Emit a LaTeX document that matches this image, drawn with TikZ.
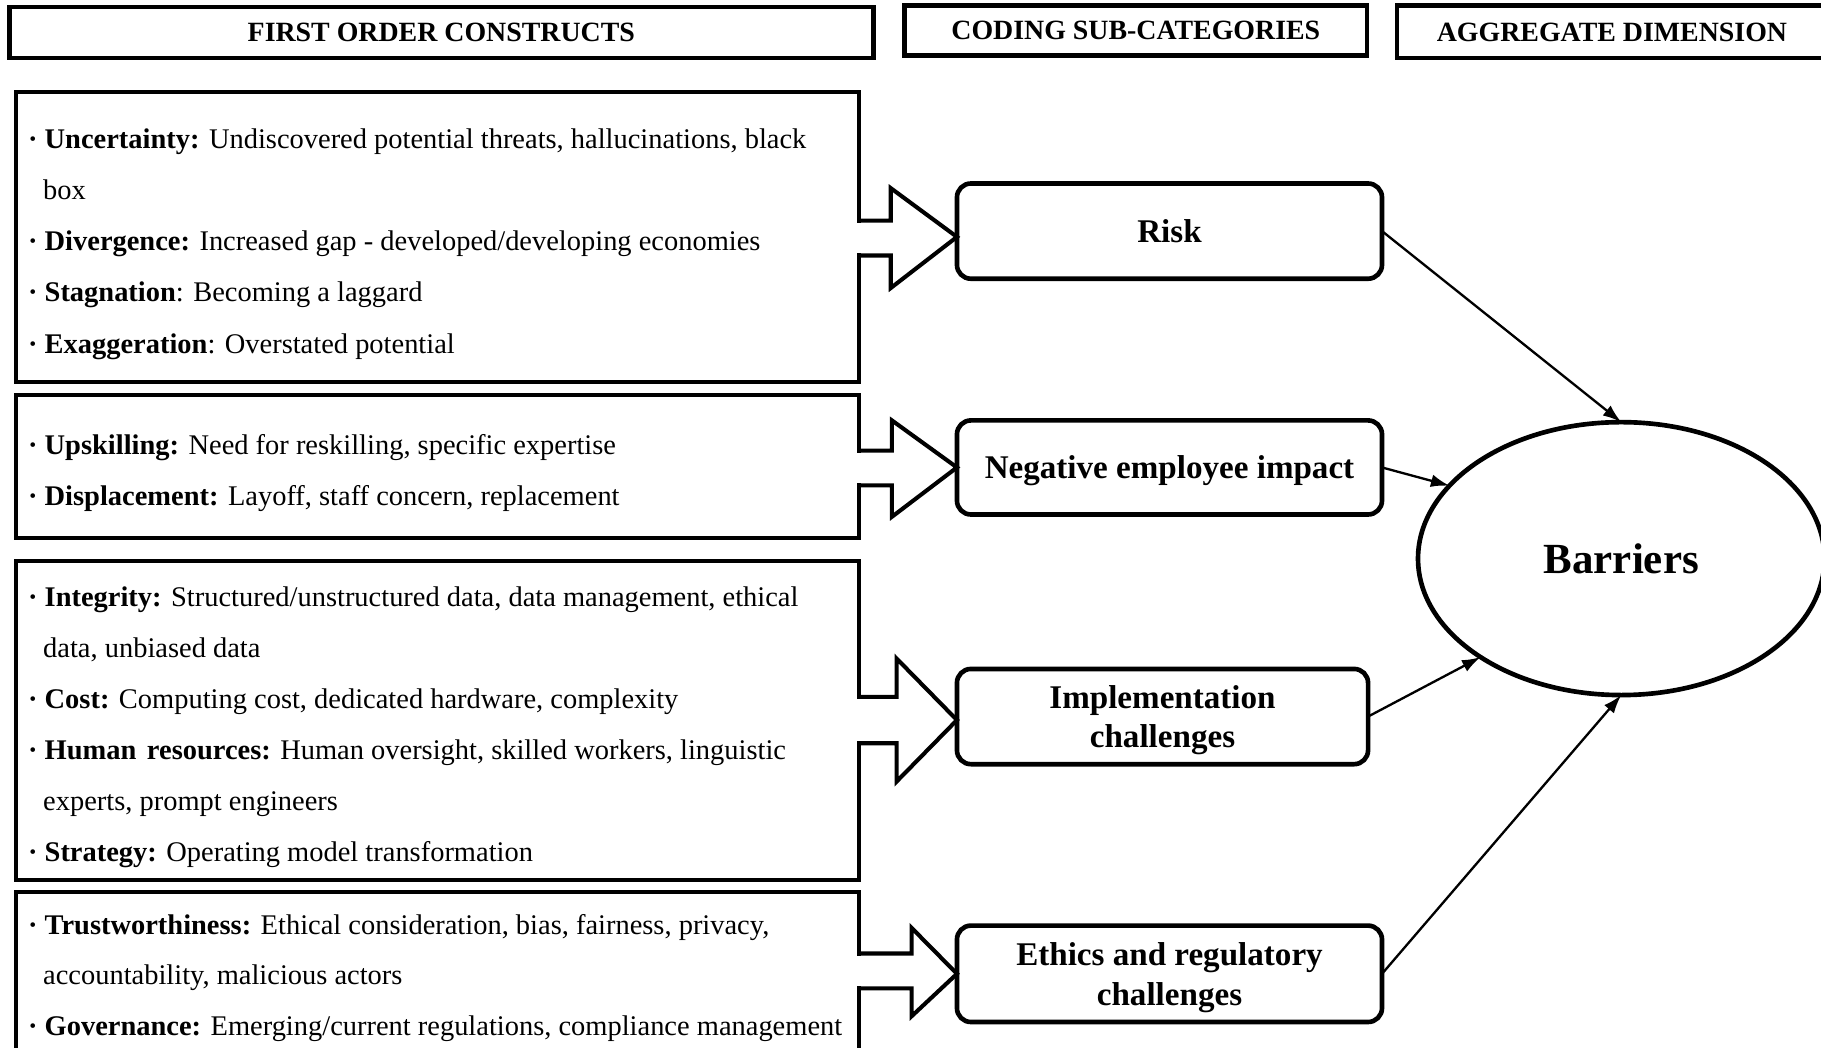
\documentclass[tikz,border=0pt]{standalone}
\usepackage{fontspec}
\setmainfont{Liberation Serif}
\usetikzlibrary{arrows.meta, shapes.geometric, calc}

\begin{document}
\begin{tikzpicture}[x=1pt, y=-1pt,
  hdr/.style={draw, line width=4pt, inner sep=0pt, outer sep=0pt,
    font=\fontsize{24}{28}\selectfont\bfseries},
  cbox/.style={draw, line width=3.5pt, inner sep=0pt, outer sep=0pt},
  subbox/.style={draw, line width=4pt, rounded corners=12pt, inner sep=0pt,
    outer sep=0pt, align=center, minimum width=366pt,
    font=\fontsize{28.5}{34}\selectfont\bfseries},
  txt/.style={anchor=base west, inner sep=0pt,
    font=\fontsize{24.5}{29}\selectfont},
  blk/.style={line width=3.5pt, miter limit=10},
  gap/.style={fill=white},
  link/.style={line width=2pt, -{Latex[length=16pt,width=11pt]}},
]
\useasboundingbox (0,0) rectangle (1568,902);
\clip (0,0) rectangle (1568,902);

% column headers
\node[hdr, minimum width=744pt, minimum height=44pt] (h1) at (380,28) {FIRST ORDER CONSTRUCTS};
\node[hdr, minimum width=398pt, minimum height=43pt] (h2) at (978,26.5) {CODING SUB-CATEGORIES};
\draw[line width=4pt] (1590,5) -- (1203,5) -- (1203,50) -- (1590,50);
\node[font=\fontsize{24}{28}\selectfont\bfseries, inner sep=0pt] (h3) at (1388,27.5) {AGGREGATE DIMENSION};

% first order construct boxes
\node[cbox, minimum width=726pt, minimum height=250pt] (b1) at (377,204) {};
\node[cbox, minimum width=726pt, minimum height=123pt] (b2) at (377,401.5) {};
\node[cbox, minimum width=726pt, minimum height=275pt] (b3) at (377,620.5) {};
\node[cbox, minimum width=726pt, minimum height=160pt] (b4) at (377,848) {};

% sub-categories
\node[subbox, minimum height=82pt] (risk) at (1007,199) {Risk};
\node[subbox, minimum height=81pt, text depth=0pt] (nei) at (1007,402.5) {Negative employee impact};
\node[subbox, minimum height=82pt, minimum width=354pt, text depth=0pt] (impl) at (1001,617) {Implementation\\challenges};
\node[subbox, minimum height=83pt, text depth=0pt] (eth) at (1007,838.5) {Ethics and regulatory\\challenges};

% aggregate dimension
\node[ellipse, draw, line width=4pt, minimum width=350pt, minimum height=235pt,
  inner sep=0pt, outer sep=0pt, font=\fontsize{37}{40}\selectfont\bfseries] (bar) at (1396,481) {Barriers};

% block arrows leaving the construct boxes
\fill[gap] (737,192) rectangle (743,218);
\draw[blk] (740,190) -- (767,190) -- (767,162) -- ($(risk.west)+(0,5)$) -- (767,248) -- (767,220) -- (740,220);
\fill[gap] (737,390) rectangle (743,416);
\draw[blk] (740,388) -- (768,388) -- (768,362) -- (nei.west) -- (768,445) -- (768,418) -- (740,418);
\fill[gap] (737,602) rectangle (743,638);
\draw[blk] (740,600) -- (772,600) -- (772,567) -- ($(impl.west)+(0,3)$) -- (772,673) -- (772,640) -- (740,640);
\fill[gap] (737,823) rectangle (743,849);
\draw[blk] (740,821) -- (785,821) -- (785,799) -- (eth.west) -- (785,875) -- (785,851) -- (740,851);

% connectors to the aggregate dimension
\draw[link] (risk.east) -- (bar.north);
\draw[link] (nei.east) -- (bar.157);
\draw[link] (impl.east) -- (bar.215);
\draw[link] (eth.east) -- (bar.south);

% construct texts
\node[txt] (l1) at (24,128) {\textbf{·} \textbf{Uncertainty:} Undiscovered potential threats, hallucinations, black};
\node[txt] (l2) at (37,172) {box};
\node[txt] (l3) at (24,216) {\textbf{·} \textbf{Divergence:} Increased gap - developed/developing economies};
\node[txt] (l4) at (24,260) {\textbf{·} \textbf{Stagnation}: Becoming a laggard};
\node[txt] (l5) at (24,304) {\textbf{·} \textbf{Exaggeration}: Overstated potential};

\node[txt] (l6) at (24,391) {\textbf{·} \textbf{Upskilling:} Need for reskilling, specific expertise};
\node[txt] (l7) at (24,435) {\textbf{·} \textbf{Displacement:} Layoff, staff concern, replacement};

\node[txt] (l8) at (24,522) {\textbf{·} \textbf{Integrity:} Structured/unstructured data, data management, ethical};
\node[txt] (l9) at (37,566) {data, unbiased data};
\node[txt] (l10) at (24,610) {\textbf{·} \textbf{Cost:} Computing cost, dedicated hardware, complexity};
\node[txt] (l11) at (24,654) {\textbf{·} \textbf{Human\hspace{3pt} resources:} Human oversight, skilled workers, linguistic};
\node[txt] (l12) at (37,698) {experts, prompt engineers};
\node[txt] (l13) at (24,742) {\textbf{·} \textbf{Strategy:} Operating model transformation};

\node[txt] (l14) at (24,805) {\textbf{·} \textbf{Trustworthiness:} Ethical consideration, bias, fairness, privacy,};
\node[txt] (l15) at (37,848) {accountability, malicious actors};
\node[txt] (l16) at (24,892) {\textbf{·} \textbf{Governance:} Emerging/current regulations, compliance management};
\end{tikzpicture}
\end{document}
